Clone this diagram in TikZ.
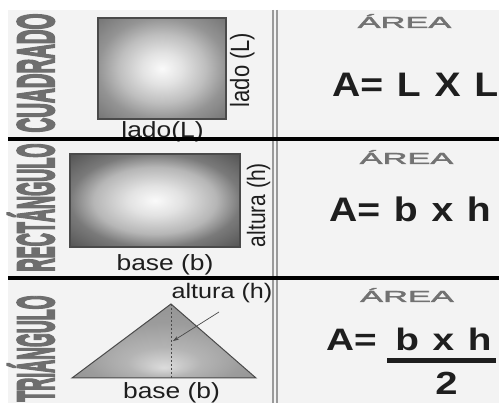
\documentclass[tikz,border=0pt]{standalone}
\usepackage{fontspec}
\setmainfont{Liberation Sans}
\newfontfamily\heavylab[FakeBold=5]{Liberation Sans Bold}
\newfontfamily\arealabfont[FakeBold=2]{Liberation Sans}
\usetikzlibrary{arrows.meta}
\definecolor{bgc}{HTML}{F3F3F3}
\definecolor{labc}{HTML}{6E6E6E}
\definecolor{areac}{HTML}{727272}
\definecolor{vlinec}{HTML}{9A9A9A}
\definecolor{edgec}{HTML}{4A4A4A}
\definecolor{txtc}{HTML}{1E1E1E}
% square shading
\definecolor{sqa}{HTML}{FAFAFA}
\definecolor{sqb}{HTML}{E2E2E2}
\definecolor{sqc}{HTML}{BEBEBE}
\definecolor{sqd}{HTML}{949494}
\definecolor{sqe}{HTML}{767676}
\pgfdeclareradialshading{sqshade}{\pgfpoint{0bp}{0bp}}{color(0bp)=(sqa); color(8bp)=(sqb); color(17bp)=(sqc); color(25bp)=(sqd); color(35bp)=(sqe); color(50bp)=(sqe)}
% rectangle shading
\definecolor{rca}{HTML}{FAFAFA}
\definecolor{rcb}{HTML}{E2E2E2}
\definecolor{rcc}{HTML}{B6B6B6}
\definecolor{rcd}{HTML}{7A7A7A}
\definecolor{rce}{HTML}{555555}
\pgfdeclareradialshading{rcshade}{\pgfpoint{0bp}{0bp}}{color(0bp)=(rca); color(8bp)=(rcb); color(18bp)=(rcc); color(25bp)=(rcd); color(35bp)=(rce); color(50bp)=(rce)}
% triangle shading
\definecolor{tra}{HTML}{DCDCDC}
\definecolor{trb}{HTML}{B4B4B4}
\definecolor{trc}{HTML}{9C9C9C}
\definecolor{trd}{HTML}{8E8E8E}
\pgfdeclareradialshading{trshade}{\pgfpoint{0bp}{-18bp}}{color(0bp)=(tra); color(10bp)=(trb); color(22bp)=(trc); color(40bp)=(trd); color(50bp)=(trd)}
\newcommand{\frmsp}{\hspace{0.35em}}
\tikzset{
  biglab/.style={rotate=90, anchor=base, inner sep=0pt, text=labc,
    font=\heavylab\fontsize{52}{56}\selectfont},
  arealab/.style={anchor=base, inner sep=0pt, text=areac,
    font=\arealabfont\fontsize{16}{18}\selectfont},
  formula/.style={anchor=base west, inner sep=0pt, text=txtc,
    font=\fontsize{34}{38}\selectfont\bfseries},
  formulab/.style={inner sep=0pt, text=txtc,
    font=\fontsize{31}{36}\selectfont\bfseries},
  dimlab/.style={anchor=base, inner sep=0pt, text=txtc,
    font=\fontsize{22}{24}\selectfont},
  dimlabs/.style={anchor=base, inner sep=0pt, text=txtc,
    font=\fontsize{21}{24}\selectfont},
  shapeedge/.style={draw=edgec, line width=1.1pt},
  sepline/.style={line width=4pt, black},
  dblline/.style={line width=1.4pt, vlinec},
}
\begin{document}
\begin{tikzpicture}[x=1pt, y=-1pt]
\useasboundingbox (0,0) rectangle (499,403);
% background panel
\fill[bgc] (8,10) rectangle (499,403);
% double vertical separator
\coordinate (v1t) at (273,10); \coordinate (v1b) at (273,403);
\coordinate (v2t) at (277,10); \coordinate (v2b) at (277,403);
\draw[dblline] (v1t) -- (v1b);
\draw[dblline] (v2t) -- (v2b);

% ---- CUADRADO ----
\node[biglab] (lab1) at (53.7,73) {\scalebox{0.392}[1]{CUADRADO}};
\shadedraw[shading=sqshade, shapeedge] (98,18) rectangle (226,119);
\node[dimlab, rotate=90] (sqside) at (249,70) {\scalebox{1}[1.2]{lado (L)}};
\node[dimlab] (sqbase) at (162.5,137.5) {\scalebox{1.2}[1]{lado(L)}};
\node[arealab] (area1) at (404.5,28) {\scalebox{2.15}[1]{ÁREA}};
\node[formula] (f1) at (332,97) {\scalebox{1.15}[1]{A=\frmsp L\frmsp X\frmsp L}};

% ---- RECTÁNGULO ----
\node[biglab] (lab2) at (53.7,207.5) {\scalebox{0.349}[1]{RECTÁNGULO}};
\shadedraw[shading=rcshade, shapeedge] (70,154) rectangle (240,247);
\node[dimlabs, rotate=90] (rcside) at (265,205) {\scalebox{1}[1.2]{altura (h)}};
\node[dimlab] (rcbase) at (165,271) {\scalebox{1.2}[1]{base (b)}};
\node[arealab] (area2) at (406.5,164) {\scalebox{2.15}[1]{ÁREA}};
\node[formula] (f2) at (329,222) {\scalebox{1.15}[1]{A=\frmsp b\frmsp x\frmsp h}};

% ---- TRIÁNGULO ----
\node[biglab] (lab3) at (53.7,348.5) {\scalebox{0.343}[1]{TRIÁNGULO}};
\coordinate (tl) at (72,378);
\coordinate (tr) at (256,378);
\coordinate (ta) at (171,304);
\coordinate (tb) at (171,378);
\shadedraw[shading=trshade, draw=edgec, line width=1pt, line join=miter] (tl) -- (ta) -- (tr) -- cycle;
\draw[dashed, edgec, line width=0.7pt, dash pattern=on 2.5pt off 1.5pt] (ta) -- (tb);
\node[dimlabs] (trh) at (222,299) {\scalebox{1.2}[1]{altura (h)}};
\coordinate (arrS) at (219,312);
\coordinate (arrE) at (173,341);
\draw[edgec, line width=0.7pt, -{Stealth[length=6pt, width=4pt]}] (arrS) -- (arrE);
\node[dimlab] (trbase) at (171.5,399) {\scalebox{1.2}[1]{base (b)}};
\node[arealab] (area3) at (407,302) {\scalebox{2.15}[1]{ÁREA}};
\node[formulab, anchor=base west] (f3) at (326,351) {\scalebox{1.25}[1]{A=}};
\node[formulab, anchor=base] (num3) at (443.5,351) {\scalebox{1.25}[1]{b\frmsp x\frmsp h}};
\coordinate (barL) at (387,360.5);
\coordinate (barR) at (496,360.5);
\draw[line width=5pt, txtc] (barL) -- (barR);
\node[formulab, anchor=base, font=\fontsize{32}{36}\selectfont\bfseries] (den3) at (446.5,395) {\scalebox{1.25}[1]{2}};

% horizontal separators (drawn last, over the labels)
\coordinate (h1l) at (8,139.5); \coordinate (h1r) at (499,139.5);
\coordinate (h2l) at (8,278.5); \coordinate (h2r) at (499,278.5);
\draw[sepline] (h1l) -- (h1r);
\draw[sepline] (h2l) -- (h2r);
\end{tikzpicture}
\end{document}
